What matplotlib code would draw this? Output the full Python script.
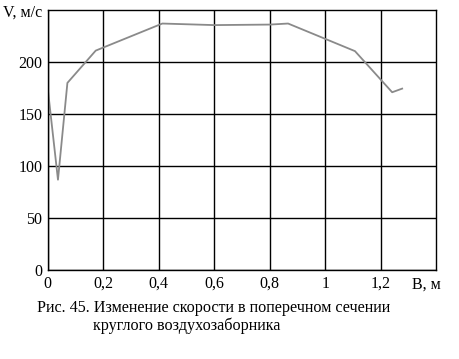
import matplotlib.pyplot as plt
import numpy as np

plt.rcParams['font.family'] = ['Liberation Serif', 'DejaVu Serif']

# velocity across the section of the intake
b_m = [0.0, 0.037, 0.071, 0.173, 0.413, 0.6, 0.8, 0.866, 1.107, 1.241, 1.277]
v_ms = [175, 87, 180, 211, 237, 235.5, 236, 237, 210.5, 171, 174.5]

x_ticks = [0, 0.2, 0.4, 0.6, 0.8, 1.0, 1.2]
x_labels = ["0", "0,2", "0,4", "0,6", "0,8", "1", "1,2"]
y_ticks = [0, 50, 100, 150, 200]

fig = plt.figure(figsize=(4.6, 3.59), dpi=100)
ax = fig.add_axes([47.7 / 460, 1 - 270.3 / 359, 388.6 / 460, 260.3 / 359])

ax.plot(b_m, v_ms, color="#8a8a8a", linewidth=1.3)

ax.set_xlim(0, 1.4)
ax.set_ylim(0, 250)
ax.set_xticks(x_ticks)
ax.set_xticklabels(x_labels)
ax.set_yticks(y_ticks)
ax.grid(True, color="black", linewidth=1.0)
ax.set_axisbelow(True)
ax.tick_params(length=0, labelsize=11.5, pad=4)
for s in ax.spines.values():
    s.set_linewidth(1.0)

fig.text(3 / 460, 1 - 13 / 359, "V, м/с", fontsize=11.5, va="center", ha="left")
fig.text(412 / 460, 1 - 285 / 359, "B, м", fontsize=11.5, va="center", ha="left")
fig.text(37 / 460, 1 - 308 / 359, "Рис. 45. Изменение скорости в поперечном сечении",
         fontsize=11.6, va="center", ha="left")
fig.text(93 / 460, 1 - 326 / 359, "круглого воздухозаборника",
         fontsize=11.6, va="center", ha="left")

fig.savefig("out.png", dpi=100)
